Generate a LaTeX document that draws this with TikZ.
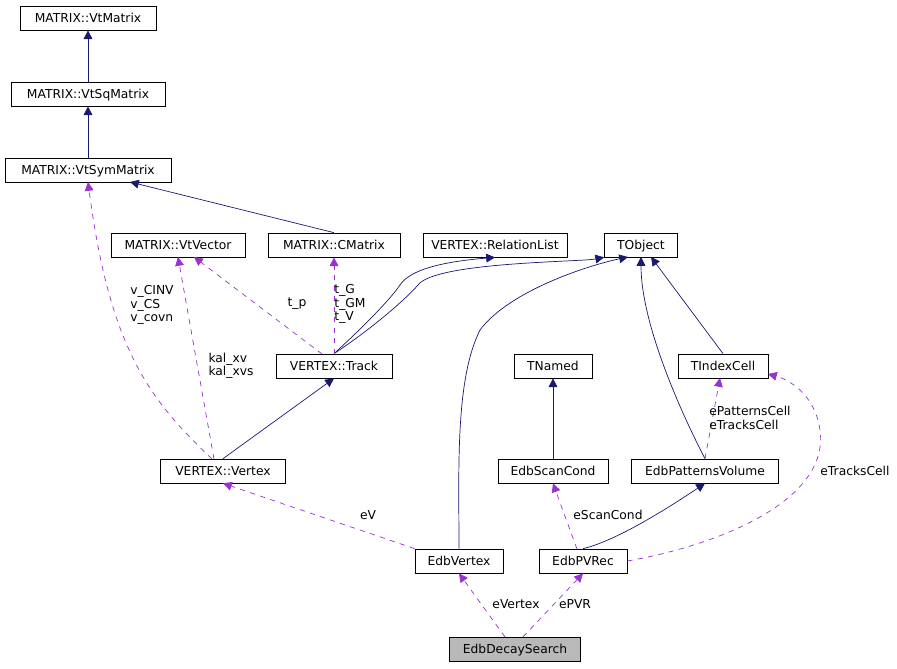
\documentclass[tikz,border=0pt]{standalone}
\usepackage{fontspec}
\setmainfont{DejaVu Sans}
\usetikzlibrary{arrows.meta}
\definecolor{navy}{HTML}{191970}
\definecolor{violet}{HTML}{9A32CD}
\begin{document}
\begin{tikzpicture}[x=0.02cm,y=-0.02cm,font=\fontsize{7}{8}\selectfont]
% Styles
\tikzset{
  classe/.style={draw=black,fill=white,minimum height=0.48cm,inner xsep=3pt,text depth=0pt},
  herite/.style={navy,-{Triangle[length=5pt,width=5pt]}},
  membre/.style={violet,dashed,-{Triangle[length=5pt,width=5pt]}},
  lbl/.style={black,align=left,font=\fontsize{7}{7.6}\selectfont}
}
\useasboundingbox (0,0) rectangle (897,669);
% Classes
\node[classe,minimum width=136*0.02cm] (vtm) at (88,18) {MATRIX::VtMatrix};
\node[classe,minimum width=154*0.02cm] (vtsq) at (88,94) {MATRIX::VtSqMatrix};
\node[classe,minimum width=166*0.02cm] (vtsym) at (88,170) {MATRIX::VtSymMatrix};
\node[classe,minimum width=134*0.02cm] (vtvec) at (178,245) {MATRIX::VtVector};
\node[classe,minimum width=132*0.02cm] (cmat) at (334,245) {MATRIX::CMatrix};
\node[classe,minimum width=144*0.02cm] (rel) at (495,245) {VERTEX::RelationList};
\node[classe,minimum width=73*0.02cm] (tobj) at (641,245) {TObject};
\node[classe,minimum width=116*0.02cm] (track) at (334,366) {VERTEX::Track};
\node[classe,minimum width=78*0.02cm] (tnamed) at (553,366) {TNamed};
\node[classe,minimum width=90*0.02cm] (tindex) at (723,366) {TIndexCell};
\node[classe,minimum width=125*0.02cm] (vertex) at (223,471) {VERTEX::Vertex};
\node[classe,minimum width=110*0.02cm] (scan) at (553,471) {EdbScanCond};
\node[classe,minimum width=147*0.02cm] (patvol) at (705,471) {EdbPatternsVolume};
\node[classe,minimum width=88*0.02cm] (edbv) at (459,561) {EdbVertex};
\node[classe,minimum width=88*0.02cm] (pvrec) at (583,561) {EdbPVRec};
\node[classe,minimum width=131*0.02cm,fill=gray!55] (decay) at (515,649) {EdbDecaySearch};
% Heritage
\draw[herite] (vtsq) -- (vtm);
\draw[herite] (vtsym) -- (vtsq);
\draw[herite] (cmat.north) -- (130,182);
\draw[herite] (track.north) .. controls (360,330) and (390,300) .. (400,285) .. controls (410,270) and (440,262) .. (rel.south);
\draw[herite] (track.north) .. controls (370,330) and (405,300) .. (418,285) .. controls (435,262) and (580,262) .. (tobj.south west);
\draw[herite] (vertex.north) -- (track.south);
\draw[herite] (edbv.north) .. controls (459,470) and (455,380) .. (480,330) .. controls (510,290) and (590,265) .. (628,257);
\draw[herite] (tindex.north) -- (651,257);
\draw[herite] (patvol.north) .. controls (690,430) and (641,330) .. (641,257);
\draw[herite] (scan) -- (tnamed);
\draw[herite] (pvrec.north) .. controls (620,540) and (680,500) .. (patvol.south);
% Membres
\draw[membre] (212,459) .. controls (150,400) and (110,350) .. (88,182);
\node[lbl] at (152,305) {v\_CINV\\v\_CS\\v\_covn};
\draw[membre] (214,459) -- (178,257);
\node[lbl] at (231,366) {kal\_xv\\kal\_xvs};
\draw[membre] (322,354) -- (194,257);
\node[lbl] at (297,304) {t\_p};
\draw[membre] (334,354) -- (cmat.south);
\node[lbl] at (350,304) {t\_G\\t\_GM\\t\_V};
\draw[membre] (edbv.north west) -- (vertex.south);
\node[lbl] at (368,515) {eV};
\draw[membre] (patvol.north) -- (720,378);
\node[lbl] at (750,418) {ePatternsCell\\eTracksCell};
\draw[membre] (pvrec.east) .. controls (720,545) and (830,500) .. (820,430) .. controls (815,395) and (790,380) .. (768,374);
\node[lbl] at (855,471) {eTracksCell};
\draw[membre] (577,549) -- (scan.south);
\node[lbl] at (608,515) {eScanCond};
\draw[membre] (505,637) -- (edbv.south);
\node[lbl] at (516,604) {eVertex};
\draw[membre] (523,637) -- (pvrec.south);
\node[lbl] at (575,604) {ePVR};
\end{tikzpicture}
\end{document}
